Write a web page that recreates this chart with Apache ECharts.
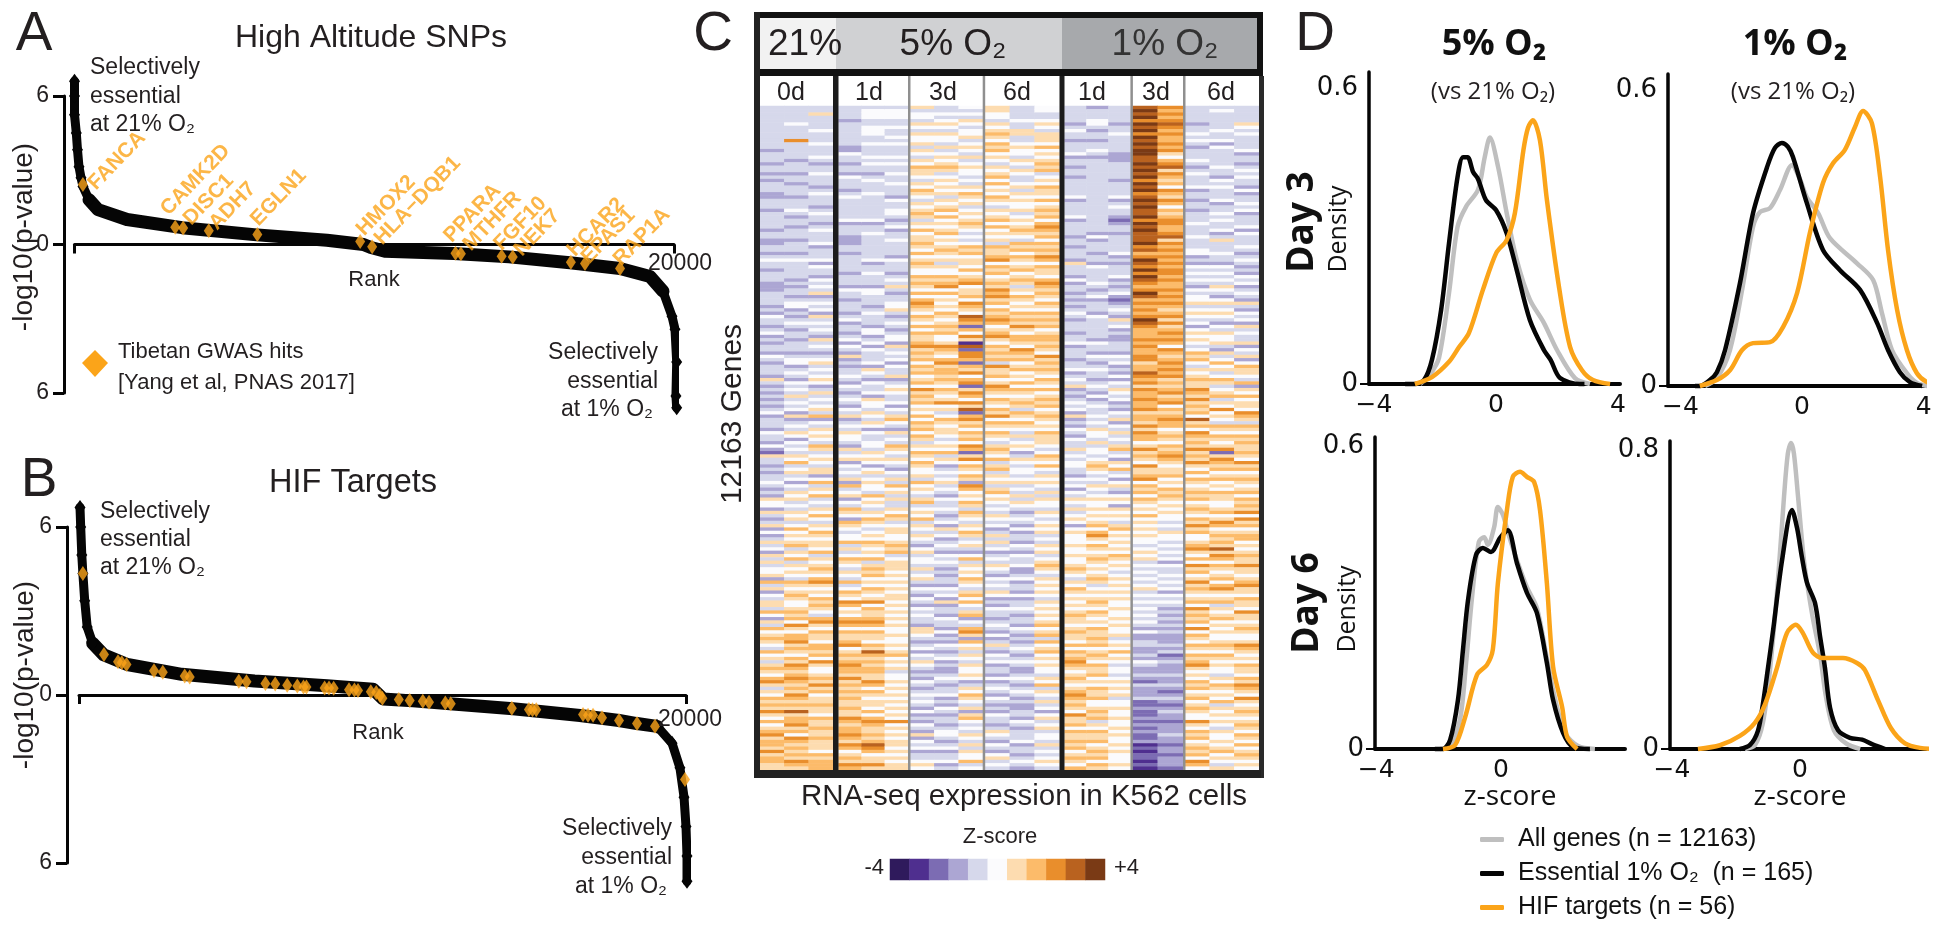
<!DOCTYPE html>
<html><head><meta charset="utf-8">
<style>html,body{margin:0;padding:0;background:#fff}#c{width:1950px;height:927px}</style>
<script src="https://cdn.jsdelivr.net/npm/echarts@6/dist/echarts.min.js"></script>
</head><body><div id="c"></div>
<script>
// ---------- Panel A data: [rank, signed -log10(p)]
const aHead=[[0,6.6],[0,6.0],[0,5.24],[60,4.51],[100,3.83],[150,3.14],[217,2.70],[284,2.34],[484,1.81]];
const aMid=[[484,1.81],[784,1.41],[1751,1.01],[3586,.68],[5988,.40],[8423,.17],[9640,0],[9890,-.12],[10358,-.27],[12660,-.36],[14495,-.50],[16530,-.74],[18200,-.97],[19200,-1.29],[19633,-1.89]];
const aTail=[[19633,-1.89],[19933,-2.9],[20033,-3.42],[20090,-4.75],[20065,-6.12],[20090,-6.6]];
const aGenes=['FANCA','CAMK2D','DISC1','ADH7','EGLN1','HMOX2','HLA\u2212DQB1','PPARA','MTHFR','FGF10','NEK7','HCAR2','EPAS1','RAP1A'];
const aGeneRanks=[280,3360,3625,4480,6100,9530,9930,12710,12890,14250,14620,16560,17030,18200];
const aGeneValues=[2.42,.70,.67,.56,.40,.12,-.09,-.35,-.37,-.47,-.50,-.72,-.77,-.97];
// ---------- Panel B data
const bHead=[[33,6.7],[56,6.0],[92,5.0],[128,4.34],[188,3.37],[270,2.43],[451,1.85]];
const bMid=[[451,1.85],[810,1.44],[1589,1.09],[3387,.74],[5783,.50],[8172,.33],[9687,.21],[10017,-.14],[11005,-.21],[12324,-.32],[14300,-.49],[16510,-.73],[17793,-.91],[18386,-1.02],[19044,-1.12]];
const bTail=[[19044,-1.12],[19540,-1.72],[19800,-2.6],[19935,-3.65],[20000,-4.7],[20033,-5.75],[20033,-6.65]];
const bHif=[[128,4.34],[823,1.45],[1285,1.19],[1410,1.15],[1565,1.09],[2471,.87],[2761,.81],[3483,.68],[3648,.64],[5266,.49],[5519,.47],[6142,.41],[6465,.39],[6860,.35],[7193,.32],[7397,.29],[7493,.29],[8093,.25],[8238,.25],[8392,.24],[8897,.19],[9075,.18],[9193,.16],[9615,.12],[9793,.09],[9915,-.02],[9997,-.12],[10537,-.16],[10896,-.20],[11328,-.22],[11533,-.26],[12070,-.29],[12248,-.31],[14261,-.47],[14824,-.52],[14943,-.53],[15065,-.53],[16607,-.70],[16772,-.72],[16937,-.72],[17233,-.81],[17793,-.91],[18386,-1.02],[18979,-1.12],[19967,-3.02]];
// ---------- Panel C data: one string per sample, top row first; 0..9,a = colour bins from -4 to +4
const d0a="4444444444 4443444344 3434443344 4344444344 3344345443 4443334444 3435443453 4344354344 4364343434 3453444354 4353264434 3445434365 5364346353 4645364645 5637463546 6475364756 7654756467 6578646576 7686575678 6776867766";
const d0b="4444454444 8444443444 3443444344 4543443444 3444345444 4434344345 5343454344 3444345534 5435454645 4536345465 3545465745 6453546564 5465645756 5674657465 6547656765 5676758657 7867657687 6787676876 7696778675 8767676876";
const d0c="4464444544 4544454344 5444345444 3454434544 4534445354 4354546345 4536454543 6454345645 4565346454 5647354656 5476456546 6357465745 4657546576 5665746567 6578656576 7654786576 6577675865 5676867566 7665766766 7666576777";
const m1a="4444344444 4433544344 3544434544 4444534443 3344344444 3444354434 4434534434 5354363434 4543543454 3546345465 5436456354 5463745635 4765376545 5746457654 6547457658 7565787576 6785676787 7686767676 6766876778 7687567687";
const m1b="4555445554 4544454544 3454445444 4444534454 4444445344 5444355444 3454443553 4535444536 5435445365 5465465354 4554656535 6456554756 5465765456 5765657467 6756576568 5766787576 6576976767 7668757656 6575787667 6798756686";
const m1c="4555445445 4544454544 5445444354 4554345344 5444435444 3454643445 5643454345 5364545354 4634565445 3546754364 5476546543 5464756464 4657645665 5676745666 5656565665 6565656556 5565675656 4556565656 5656585656 5665656566";
const m3a="6455465465 5646546576 6546576546 5676465756 6765756765 5767657578 7657657576 6786767576 7567586767 5657576757 6465765765 5647565467 4565746546 5435645546 4564354354 3545443665 4345354654 3435434545 4353435436 3545344565";
const m3b="4454565465 5464565676 4565656465 6757565675 6567656465 5767857565 6576567675 5687657867 7676576568 5645765665 4565746534 5456454354 4543453645 3454354543 4344354536 3443544353 4354345343 3454344534 3543443455 4345344534";
const m3c="5454654556 4565464565 5454657656 4565676545 4576756657 5678566758 7659872758 6192887276 8578268758 6927867576 7587268576 5763875657 6476546576 4564357465 6576546757 5467354786 3756465465 5653465765 4636754546 5464655745";
const m6a="6655465676 5767565465 6757565765 4656757565 6476678576 7567687867 5767875678 6576767486 6756876576 5768576576 5467657467 4656467565 4546545346 4645345465 4354546534 3544345435 3464354534 4353454354 3435443465 4354356454";
const m6b="4444544664 4565546546 5445646565 5645656765 4767576567 5676465765 6576768657 7658767567 5657576567 6476576546 4565346545 5456454646 5434543534 4354354453 3453443534 4543443543 4345434543 3454345434 3344354344 4534434543";
const m6c="5544565466 6575656767 4565766575 6767578767 5767687576 6578767657 6576767567 7676586767 6576575676 7567656576 6654576575 4656546465 5465456564 5465645676 5465656546 5656567567 4756756565 5465746546 4535645645 5464545654";
const h1a="4444434544 3444534434 4344444534 4445344443 4434443644 4353443434 3454344434 4534443445 3454634345 4536343543 5446454554 4354535465 4645653565 5565565567 6546576565 6567665676 6575767876 5676567876 7658667576 6767567657";
const h1b="3444554344 3445434444 4444444444 4444444435 3444344354 4445434534 4435444444 3544354345 4434543534 5445454655 4645545676 5454654565 5656567578 6576567656 5676456567 6576565766 7675676576 6756576675 5676746576 6756767576";
const h1c="4444434454 4444333444 4434444534 5443234434 4444534344 4534345323 4543645343 3444354534 3535465453 4354635464 5467453657 4535643565 3656546756 5656576565 4565656565 5655656556 4565756545 5456565645 5655655656 5565655565";
const h3a="9a9a8a9a8a 9a9aa99a9a 9a8a9a89a9 a99a8a9a99 9a8978a98a 8a9878a978 7878a98777 8787788677 9878687787 7867768687 7568676586 6785767576 5657565656 5545656454 5454564545 4545454353 3443343543 3432433342 2322323232 2312122121";
const h3b="8787898787 7878657896 8767587687 5767887789 6878787878 8787787878 7678686787 8758767878 7867678678 5767877567 6576787656 6756576765 6565545465 5454545354 4545453545 4343434343 3343423433 3433432343 2343323334 3323323332";
const h6a="4444434454 5434445434 5444534434 4344454445 4445534354 5454354556 4565453565 6545767546 5676687686 7675967587 6768676865 7576567675 6765768675 5678657586 7568676567 5867675857 6576576786 5657675675 6765586576 7567675875";
const h6b="4544444544 5354444454 4354544453 4454544534 6444544354 5454654356 4565435465 5643645756 4576456746 5856547657 6568268767 5675657665 5675687567 6769687576 5675786567 4656756565 5676576565 5465765657 4656565465 5656756546";
const h6c="4444465454 4445344345 4544353445 4534445354 4454345434 3545345436 4354536454 4635463576 6547365756 6587647657 6766765867 5676567576 7685867567 7565676686 6567866576 6586656765 5687656576 6576876586 5676567657 6575676565";
const zLevels=[-4,-3.2,-2.4,-1.6,-.8,0,.8,1.6,2.4,3.2,4];
// ---------- Panel D data: [z-score, density]
const d3o5All=[[-2.49,0],[-2.16,.02],[-1.87,.053],[-1.54,.185],[-1.26,.319],[-.98,.36],[-.59,.394],[-.37,.46],[-.2,.5],[.07,.44],[.35,.347],[.68,.252],[1.11,.171],[1.57,.124],[2,.069],[2.59,.012],[3.08,0]];
const d3o5Ess=[[-2.98,0],[-2.66,0],[-2.36,.008],[-2.1,.049],[-1.8,.15],[-1.54,.286],[-1.26,.42],[-1.08,.46],[-.93,.46],[-.75,.43],[-.59,.416],[-.33,.373],[0,.353],[.35,.306],[.68,.231],[1.11,.13],[1.57,.069],[1.79,.049],[2.1,.012],[2.75,0],[2.9,0]];
const d3o5Hif=[[-2.66,0],[-2.1,.014],[-1.54,.045],[-1.21,.075],[-.89,.103],[-.43,.191],[.01,.266],[.35,.292],[.62,.347],[.9,.475],[1.05,.52],[1.21,.535],[1.44,.495],[1.67,.373],[2.07,.195],[2.43,.075],[2.82,.028],[3.18,.008],[3.74,0]];
const d3o1All=[[-3.19,0],[-2.8,.016],[-2.37,.073],[-1.97,.195],[-1.61,.323],[-1.38,.353],[-1.05,.361],[-.72,.398],[-.33,.448],[-.07,.42],[.16,.383],[.53,.351],[.92,.3],[1.81,.249],[2.34,.215],[2.63,.148],[2.96,.073],[3.45,.026],[3.78,.006],[4.14,0]];
const d3o1Ess=[[-3.52,0],[-3.36,0],[-3.03,.012],[-2.8,.028],[-2.53,.073],[-2.04,.209],[-1.61,.351],[-1.15,.444],[-.89,.483],[-.66,.493],[-.46,.485],[-.3,.465],[.16,.371],[.69,.276],[1.25,.235],[1.91,.195],[2.47,.128],[2.83,.073],[3.22,.028],[3.55,.008],[3.95,0]];
const d3o1Hif=[[-3.36,0],[-2.8,.012],[-2.37,.032],[-1.97,.073],[-1.61,.087],[-1.05,.089],[-.62,.12],[-.16,.189],[.26,.311],[.69,.412],[1.02,.452],[1.41,.479],[1.74,.525],[2.01,.558],[2.3,.533],[2.57,.424],[2.83,.276],[3.13,.154],[3.45,.073],[3.78,.026],[4.11,.008],[4.54,0]];
const d6o5All=[[-1.96,0],[-1.63,.006],[-1.31,.06],[-1.12,.17],[-.93,.3],[-.71,.411],[-.54,.42],[-.42,.405],[-.22,.44],[-.1,.48],[.06,.465],[.22,.43],[.51,.375],[.83,.321],[1.15,.28],[1.47,.18],[1.73,.1],[2.05,.032],[2.47,.006],[3.01,0]];
const d6o5Ess=[[-2.12,0],[-1.86,0],[-1.63,.018],[-1.38,.097],[-1.22,.196],[-1.06,.294],[-.8,.385],[-.58,.399],[-.32,.391],[-.03,.419],[.22,.434],[.51,.369],[.83,.31],[1.15,.27],[1.47,.171],[1.67,.097],[1.99,.032],[2.31,.004],[2.85,0]];
const d6o5Hif=[[-1.86,0],[-1.47,.008],[-1.15,.063],[-.77,.147],[-.45,.167],[-.26,.198],[-.1,.329],[.19,.474],[.38,.54],[.61,.55],[.83,.54],[1.06,.53],[1.25,.474],[1.47,.329],[1.67,.163],[1.96,.083],[2.12,.024],[2.44,0]];
const d6o1All=[[-1.72,0],[-1.41,.01],[-1.16,.07],[-.94,.21],[-.69,.45],[-.5,.674],[-.38,.79],[-.28,.818],[-.19,.79],[-.06,.674],[.13,.5],[.38,.36],[.63,.25],[.81,.14],[1.06,.05],[1.44,.015],[1.88,0]];
const d6o1Ess=[[-1.88,0],[-1.56,.011],[-1.31,.05],[-1.16,.12],[-1,.217],[-.84,.318],[-.56,.505],[-.25,.639],[-.09,.59],[.06,.513],[.22,.444],[.47,.39],[.63,.299],[.78,.217],[.94,.11],[1.19,.05],[1.56,.03],[1.94,.025],[2.25,.013],[2.66,0]];
const d6o1Hif=[[-3.19,0],[-2.5,.01],[-1.88,.035],[-1.41,.07],[-1.09,.12],[-.72,.217],[-.41,.31],[-.13,.332],[.09,.31],[.41,.257],[.72,.243],[1.34,.243],[1.78,.23],[2.03,.211],[2.44,.13],[2.84,.056],[3.28,.015],[3.75,.003],[4.31,0]];
const seriesNames=['All genes (n = 12163)','Essential 1% O\u2082  (n = 165)','HIF targets (n = 56)'];

// ---------- styling & layout
const SANS='"Liberation Sans",Arial,sans-serif', OPEN='"Open Sans",sans-serif', DJV='"DejaVu Sans",sans-serif';
const INK='#231f20', ORANGE='#fba419', BLACK='#050505', GRAY='#bfbfbf';
const heatColors=['#2f1a5c','#4f2f8f','#7c6cb3','#aca6d3','#d6d8eb','#fbfbfd','#fddcb0','#fcbb6a','#e98e2c','#b9621f','#7a3a15'];
const W=1950,H=927;
const grids=[],xAxes=[],yAxes=[],series=[],heatIdx=[];
function addGrid(l,r,t,b,x,y){grids.push({left:l,top:t,width:r-l,height:b-t,containLabel:false});
  const i=grids.length-1;xAxes.push(Object.assign({gridIndex:i},x));yAxes.push(Object.assign({gridIndex:i},y));return i;}
function rankPanel(l,r,t,b,yOff){
  return addGrid(l,r,t,b,{type:'value',min:0,max:20000,interval:20000,splitLine:{show:false},
      axisLine:{onZero:true,lineStyle:{color:BLACK,width:3}},axisTick:{length:9,lineStyle:{color:BLACK,width:3}},
      axisLabel:{show:false}},
    {type:'value',min:-6,max:6,interval:6,offset:yOff,splitLine:{show:false},
      axisLine:{show:true,onZero:false,lineStyle:{color:BLACK,width:3}},axisTick:{show:true,length:11,lineStyle:{color:BLACK,width:3}},
      axisLabel:{color:INK,fontFamily:SANS,fontSize:23,margin:15,formatter:v=>String(Math.abs(v))}});
}
function band(g,data,w,sym){series.push({type:'line',xAxisIndex:g,yAxisIndex:g,data,clip:false,z:3,silent:true,
   lineStyle:{color:BLACK,width:w,cap:'round',join:'round'},itemStyle:{color:BLACK},
   symbol:sym?'diamond':'none',symbolSize:[11,15],showSymbol:!!sym,showAllSymbol:true});}

const gA=rankPanel(74.5,674,96,393,10.5);
const gB=rankPanel(79,686,527,863,12);
band(gA,aMid,13,false);band(gA,aHead,9,true);band(gA,aTail,9,true);
band(gB,bMid,13,false);band(gB,bHead,9,true);band(gB,bTail,9,true);

// screen offsets of each gene label from its diamond (label start)
const labelShift=[[9,2],[-11,-15],[4,-6],[4,-4],[-3,-12],[0,-9],[6,-5],[-8,-14],[6,-6],[-4,-9],[5,-4],[0,-9],[0,-3],[-3,-6]];
const ROT=46*Math.PI/180;
series.push({type:'scatter',xAxisIndex:gA,yAxisIndex:gA,z:6,clip:false,symbol:'diamond',symbolSize:[10,15],
  itemStyle:{color:ORANGE},
  data:aGenes.map((n,i)=>{const[dx,dy]=labelShift[i];return{name:n,value:[aGeneRanks[i],aGeneValues[i]],
    label:{show:true,position:'inside',formatter:'{b}',rotate:46,align:'left',verticalAlign:'middle',color:ORANGE,
      fontFamily:SANS,fontSize:21,fontWeight:'bold',
      offset:[dx*Math.cos(ROT)-dy*Math.sin(ROT),dx*Math.sin(ROT)+dy*Math.cos(ROT)]}};})});
series.push({type:'scatter',xAxisIndex:gB,yAxisIndex:gB,z:6,clip:false,symbol:'diamond',symbolSize:[10,15],
  itemStyle:{color:ORANGE},data:bHif});

// heatmap blocks
function heatBlock(l,r,cols){
  const rows=cols[0].replace(/ /g,'').length,data=[];
  cols.forEach((c,x)=>{[...c.replace(/ /g,'')].forEach((ch,y)=>{data.push([x,y,zLevels[parseInt(ch,16)]]);});});
  const g=addGrid(l,r,106,770,{type:'category',show:false,data:cols.map((c,i)=>i)},
    {type:'category',show:false,inverse:true,data:Array.from({length:rows},(_,i)=>i)});
  heatIdx.push(series.length);
  series.push({type:'heatmap',xAxisIndex:g,yAxisIndex:g,data,progressive:0,silent:true,itemStyle:{borderWidth:0}});
}
heatBlock(760,833,[d0a,d0b,d0c]);
heatBlock(838.5,908,[m1a,m1b,m1c]);
heatBlock(910,983,[m3a,m3b,m3c]);
heatBlock(985,1059.5,[m6a,m6b,m6c]);
heatBlock(1064.5,1130.5,[h1a,h1b,h1c]);
heatBlock(1132.5,1183,[h3a,h3b]);
heatBlock(1185,1259,[h6a,h6b,h6c]);
// colour key
const gKey=addGrid(890,1105,859,880,{type:'category',show:false,data:zLevels.map(String)},{type:'category',show:false,data:['k']});
heatIdx.push(series.length);
series.push({type:'heatmap',xAxisIndex:gKey,yAxisIndex:gKey,silent:true,data:zLevels.map((z,i)=>[i,0,z])});

// density panels
function density(l,r,t,b,zero,perZ,yMax,topLbl,curves){
  const g=addGrid(l,r,t,b,{type:'value',min:(l-zero)/perZ,max:(r-zero)/perZ,splitLine:{show:false},
     axisLine:{onZero:false,lineStyle:{color:BLACK,width:4}},axisTick:{show:false},
     axisLabel:{customValues:[-4,0,4],color:'#111',fontFamily:DJV,fontSize:25,margin:9,formatter:v=>v<0?'\u2212'+(-v):String(v)}},
    {type:'value',min:0,max:yMax,splitLine:{show:false},
     axisLine:{show:true,onZero:false,lineStyle:{color:BLACK,width:3.5}},axisTick:{show:true,customValues:[0],length:9,lineStyle:{color:BLACK,width:2}},
     axisLabel:{customValues:[0,topLbl],color:'#111',fontFamily:DJV,fontSize:26,margin:11,formatter:v=>v===0?'0':v.toFixed(1)}});
  [GRAY,BLACK,ORANGE].forEach((col,i)=>series.push({type:'line',name:seriesNames[i],xAxisIndex:g,yAxisIndex:g,data:curves[i],smooth:.3,
    clip:false,symbol:'none',z:4+i,lineStyle:{color:col,width:4.5},itemStyle:{color:col}}));
}
density(1369,1620,72,384,1496,30.5,.633,.6,[d3o5All,d3o5Ess,d3o5Hif]);
density(1668,1924,74,386,1802,30.4,.633,.6,[d3o1All,d3o1Ess,d3o1Hif]);
density(1375,1625,437,749,1501,31.2,.619,.6,[d6o5All,d6o5Ess,d6o5Hif]);
density(1670,1926,441,749,1800,32,.8235,.8,[d6o1All,d6o1Ess,d6o1Hif]);

// ---------- text and frame
const gfx=[];
function T(text,x,y,size,o={}){gfx.push({type:'text',x,y,rotation:o.rot||0,z:50,silent:true,
  style:{text,fill:o.color||INK,font:`${o.weight||'normal'} ${size}px ${o.font||SANS}`,textAlign:o.align||'center',textVerticalAlign:'middle'}});}
function R(x,y,w,h,fill,z=40){gfx.push({type:'rect',z,silent:true,shape:{x,y,width:w,height:h},style:{fill}});}
const UP=Math.PI/2;
T('A',34,35,55);T('B',39,481,55);T('C',713,35,55);T('D',1315,35,55);
T('High Altitude SNPs',371,38,32);T('HIF Targets',353,483,32.5);
T('-log10(p-value)',24.5,237,28,{rot:UP});T('-log10(p-value)',25,675,28,{rot:UP});
T('Rank',374,280,22);T('Rank',378,733,22);
T('20000',680,264,23);T('20000',690,720,23);
['Selectively','essential','at 21% O\u2082'].forEach((s,i)=>{T(s,90,68+28.5*i,23,{align:'left'});T(s,100,512+28*i,23,{align:'left'});});
['Selectively','essential'].forEach((s,i)=>{T(s,658,353+28.5*i,23,{align:'right'});T(s,672,829+29*i,23,{align:'right'});});
T('at 1% O\u2082',653,410,23,{align:'right'});T('at 1% O\u2082',667,887,23,{align:'right'});
T('Tibetan GWAS hits',118,352,22,{align:'left'});T('[Yang et al, PNAS 2017]',118,383,22,{align:'left'});
gfx.push({type:'polygon',z:50,silent:true,shape:{points:[[95,350],[108,363],[95,377],[82,363]]},style:{fill:ORANGE}});
// heatmap frame
R(760,18,76,51,'#f2f2f2',39);R(836,18,226,51,'#d0d1d3',39);R(1062,18,196,51,'#a7a9ac',39);
R(754,12,509,6,'#111');R(754,69,509,7,'#111');R(754,12,6,766,'#222');R(1257,12,6,64,'#111');R(1259,76,5,702,'#2a2a2a');R(754,770,507,8,'#222');
R(833,76,5.5,694,'#1c1c1c');R(1059.5,76,5,694,'#1c1c1c');
[908,982.7,1130.4,1183].forEach(x=>R(x,76,2.5,694,'#8f8f8f'));
T('21%',805,45,37);T('5% O\u2082',953,45,37);T('1% O\u2082',1165,45,37,{color:'#333'});
[['0d',791],['1d',869],['3d',943],['6d',1017],['1d',1092],['3d',1156],['6d',1221]].forEach(([s,x])=>T(s,x,93,25));
T('12163 Genes',733,414,30,{rot:UP});
T('RNA-seq expression in K562 cells',1024,797,29.5);
T('Z-score',1000,837,22);T('-4',884,868,22,{align:'right'});T('+4',1114,868,22,{align:'left'});
// density text
T('5% O\u2082',1494,45,36,{font:OPEN,weight:'bold',color:'#111'});T('1% O\u2082',1795,45,36,{font:OPEN,weight:'bold',color:'#111'});
T('(vs 21% O\u2082)',1493,92,24,{font:OPEN});T('(vs 21% O\u2082)',1793,92,24,{font:OPEN});
T('Day 3',1302,222,37,{rot:UP,font:OPEN,weight:'bold',color:'#111'});T('Density',1339,229,25,{rot:UP,font:OPEN,color:'#111'});
T('Day 6',1307,603,37,{rot:UP,font:OPEN,weight:'bold',color:'#111'});T('Density',1348,609,25,{rot:UP,font:OPEN,color:'#111'});
T('z-score',1510,797,28,{font:OPEN,color:'#111'});T('z-score',1800,797,28,{font:OPEN,color:'#111'});

const chart=echarts.init(document.getElementById('c'),null,{renderer:'canvas',width:W,height:H});
chart.setOption({animation:false,backgroundColor:'#fff',tooltip:{show:false},grid:grids,xAxis:xAxes,yAxis:yAxes,series,
  visualMap:{type:'continuous',show:false,min:-4,max:4,seriesIndex:heatIdx,inRange:{color:heatColors}},
  legend:{data:seriesNames,orient:'vertical',left:1475,top:822,itemWidth:24,itemHeight:5,itemGap:9,icon:'roundRect',selectedMode:false,
    textStyle:{fontFamily:SANS,fontSize:25,color:'#111',padding:[0,0,0,9]}},
  graphic:{elements:gfx}});
</script></body></html>
